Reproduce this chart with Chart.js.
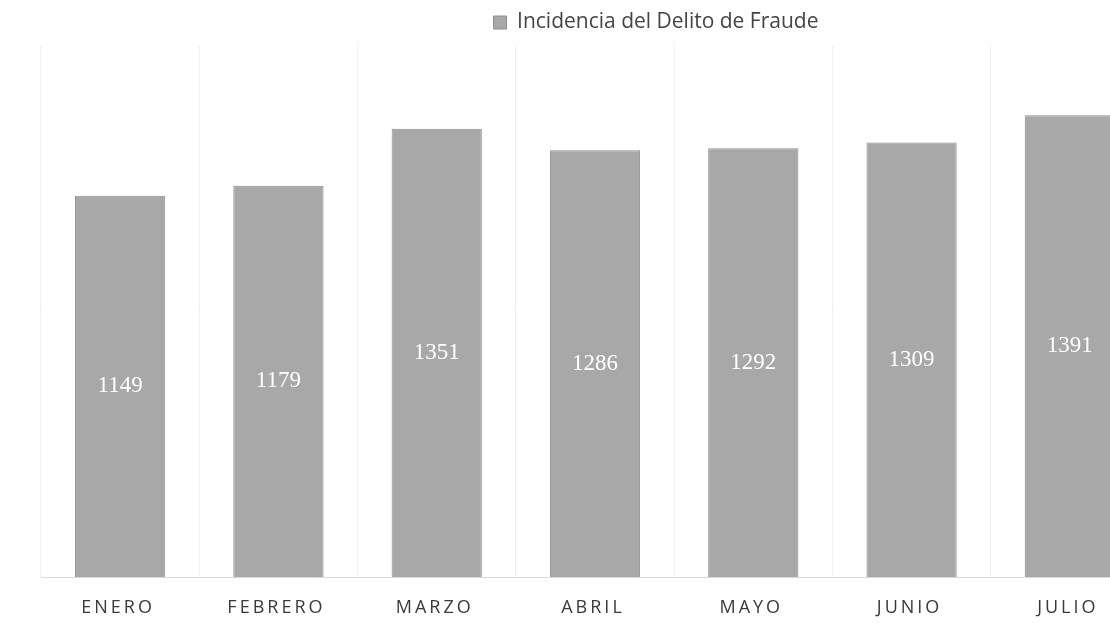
<!DOCTYPE html>
<html lang="es">
<head>
  <meta charset="UTF-8">
  <title>Incidencia del Delito de Fraude</title>
  <script src="https://cdn.jsdelivr.net/npm/chart.js"></script>
  <style>
    html, body {margin:0;padding:0;background:#fff;overflow:hidden}
    #wrap {width:1312px;height:627px}
  </style>
</head>
<body>
  <div id="wrap"><canvas id="barChart" width="1312" height="627"></canvas></div>

<script>
// Datos
const meses = ['ENERO', 'FEBRERO', 'MARZO', 'ABRIL', 'MAYO', 'JUNIO', 'JULIO'];
const incidencias = [1149, 1179, 1351, 1286, 1292, 1309, 1391];
const serie = 'Incidencia del Delito de Fraude';

// Etiquetas de valor dentro de cada barra
const etiquetasValor = {
  id: 'etiquetasValor',
  afterDatasetsDraw(chart) {
    const ctx = chart.ctx;
    const meta = chart.getDatasetMeta(0);
    ctx.save();
    ctx.font = '23px "Liberation Serif", serif';
    ctx.fillStyle = '#ffffff';
    ctx.textAlign = 'center';
    ctx.textBaseline = 'middle';
    meta.data.forEach((bar, i) => {
      const y = (bar.y + bar.base) / 2;
      ctx.fillText(String(incidencias[i]), bar.x, y);
    });
    ctx.restore();
  }
};

// Etiquetas del eje X con espaciado entre letras
const etiquetasMes = {
  id: 'etiquetasMes',
  afterDraw(chart) {
    const ctx = chart.ctx;
    const x = chart.scales.x;
    const esp = 3;
    ctx.save();
    ctx.font = '18px "Open Sans", sans-serif';
    ctx.letterSpacing = esp + 'px';
    ctx.fillStyle = '#3a3a3a';
    ctx.textAlign = 'center';
    ctx.textBaseline = 'middle';
    meses.forEach((m, i) => {
      ctx.fillText(m, x.getPixelForValue(i) - 2, chart.chartArea.bottom + 31);
    });
    ctx.restore();
  }
};

// Leyenda: algo de aire debajo y centrada en el lienzo completo
const ajusteLeyenda = {
  id: 'ajusteLeyenda',
  beforeInit(chart) {
    const fit = chart.legend.fit;
    chart.legend.fit = function() {
      fit.call(this);
      this.height += 3;
    };
  },
  afterUpdate(chart) {
    const lg = chart.legend;
    const d = chart.width / 2 - (lg.left + lg.right) / 2;
    lg.left += d;
    lg.right += d;
  }
};

const ctx = document.getElementById('barChart').getContext('2d');
const chart = new Chart(ctx, {
  type: 'bar',
  data: {
    labels: meses,
    datasets: [{
      label: serie,
      data: incidencias,
      backgroundColor: '#a8a8a8',
      borderColor: '#8e8e8e',
      borderWidth: 1,
      barPercentage: 0.57,
      categoryPercentage: 1.0
    }]
  },
  options: {
    responsive: false,
    animation: false,
    layout: { padding: { top: 2, left: 41, right: 163, bottom: 50 } },
    plugins: {
      legend: {
        position: 'top',
        labels: {
          boxWidth: 13,
          boxHeight: 13,
          padding: 10,
          color: '#444',
          font: { family: '"Open Sans", sans-serif', size: 21 }
        }
      },
      tooltip: { enabled: false }
    },
    scales: {
      x: {
        ticks: { display: false },
        grid: { color: '#efefef', offset: true, drawTicks: false },
        border: { color: '#d9d9d9' }
      },
      y: {
        display: false,
        min: 0,
        max: 1600
      }
    }
  },
  plugins: [etiquetasValor, etiquetasMes, ajusteLeyenda]
});
</script>
</body>
</html>
